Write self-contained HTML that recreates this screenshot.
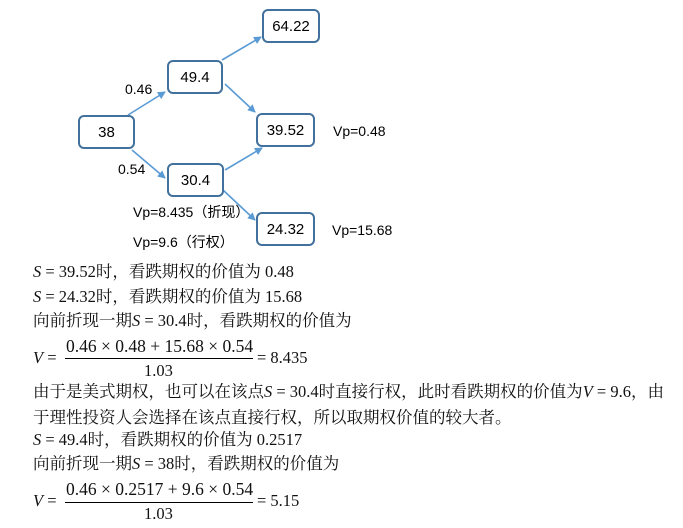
<!DOCTYPE html>
<html><head><meta charset="utf-8"><style>
body{margin:0;width:683px;height:528px;background:#fff;position:relative;overflow:hidden;font-family:"Liberation Sans","Noto Sans CJK SC",sans-serif;}
.b{position:absolute;border:2px solid #41719c;border-radius:6px;box-sizing:border-box;display:flex;align-items:center;justify-content:center;font-size:15px;color:#000;}
.l{position:absolute;font-size:14px;white-space:nowrap;color:#000;}
.t{position:absolute;left:33px;font-family:"Liberation Serif","Noto Serif CJK SC",serif;font-size:16.5px;line-height:20px;white-space:nowrap;color:#111;}
.t.n{font-size:17.5px}
i{font-style:italic}
.bar{position:absolute;height:1px;background:#000;}
</style></head><body>
<svg width="683" height="260" style="position:absolute;left:0;top:0">
<defs><marker id="a" markerWidth="8" markerHeight="8" refX="7" refY="4" orient="auto" markerUnits="userSpaceOnUse"><path d="M0,0 L8,4 L0,8 z" fill="#5b9bd5"/></marker></defs>
<g stroke="#5b9bd5" stroke-width="1.6" fill="none" marker-end="url(#a)">
<line x1="128" y1="115" x2="165" y2="92"/>
<line x1="132" y1="150" x2="165" y2="178"/>
<line x1="222" y1="60" x2="261" y2="37"/>
<line x1="225" y1="84" x2="255" y2="112"/>
<line x1="225" y1="170" x2="262" y2="148"/>
<line x1="223" y1="190" x2="255" y2="220"/>
</g></svg>
<div class="b" style="left:78px;top:115px;width:57px;height:34px">38</div>
<div class="b" style="left:167px;top:60px;width:56px;height:34px">49.4</div>
<div class="b" style="left:167px;top:163px;width:57px;height:34px">30.4</div>
<div class="b" style="left:262px;top:9px;width:58px;height:34px">64.22</div>
<div class="b" style="left:256px;top:113px;width:59px;height:34px">39.52</div>
<div class="b" style="left:256px;top:212px;width:59px;height:34px">24.32</div>
<div class="l" style="left:125px;top:81px">0.46</div>
<div class="l" style="left:118px;top:161px">0.54</div>
<div class="l" style="left:333px;top:123px">Vp=0.48</div>
<div class="l" style="left:332px;top:222px">Vp=15.68</div>
<div class="l" style="left:133px;top:202px">Vp=8.435（折现）</div>
<div class="l" style="left:133px;top:232px">Vp=9.6（行权）</div>
<div class="t" style="top:262px"><i>S</i> = 39.52时，看跌期权的价值为 0.48</div>
<div class="t" style="top:287px"><i>S</i> = 24.32时，看跌期权的价值为 15.68</div>
<div class="t" style="top:311px">向前折现一期<i>S</i> = 30.4时，看跌期权的价值为</div>
<div class="t" style="top:348px"><i>V</i> =</div>
<div class="t n" style="left:66px;top:336px">0.46 × 0.48 + 15.68 × 0.54</div>
<div class="bar" style="left:65px;top:358px;width:188px"></div>
<div class="t" style="left:144px;top:361px">1.03</div>
<div class="t" style="left:257px;top:348px">= 8.435</div>
<div class="t" style="top:382px">由于是美式期权，也可以在该点<i>S</i> = 30.4时直接行权，此时看跌期权的价值为<i>V</i> = 9.6，由</div>
<div class="t" style="top:408px">于理性投资人会选择在该点直接行权，所以取期权价值的较大者。</div>
<div class="t" style="top:430px"><i>S</i> = 49.4时，看跌期权的价值为 0.2517</div>
<div class="t" style="top:454px">向前折现一期<i>S</i> = 38时，看跌期权的价值为</div>
<div class="t" style="top:491px"><i>V</i> =</div>
<div class="t n" style="left:66px;top:479px">0.46 × 0.2517 + 9.6 × 0.54</div>
<div class="bar" style="left:65px;top:502px;width:188px"></div>
<div class="t" style="left:144px;top:504px">1.03</div>
<div class="t" style="left:257px;top:491px">= 5.15</div>
</body></html>
